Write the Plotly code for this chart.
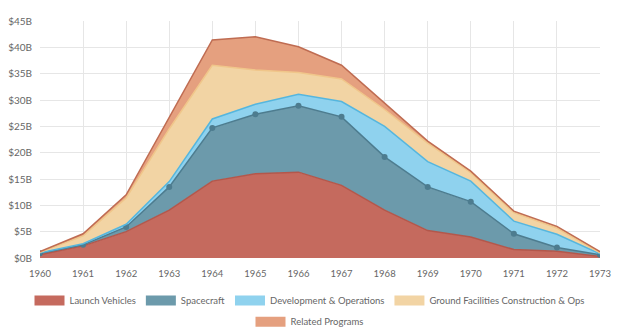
import plotly.graph_objects as go

years = list(range(1960, 1974))
year_labels = [str(y) for y in years]

launch_vehicles = [0.6, 2.3, 5.0, 9.1, 14.6, 16.0, 16.3, 13.8, 9.1, 5.2, 4.0, 1.6, 1.3, 0.3]
spacecraft      = [0.3, 0.2, 0.9, 4.4, 10.1, 11.3, 12.6, 13.0, 10.1, 8.3, 6.7, 3.0, 0.7, 0.3]
dev_ops         = [0.1, 0.2, 0.5, 1.0, 1.7, 1.9, 2.2, 2.9, 5.8, 4.8, 3.9, 2.4, 2.5, 0.2]
ground_fac      = [0.1, 1.5, 5.0, 10.0, 10.2, 6.5, 4.1, 4.3, 3.2, 3.5, 1.6, 1.6, 1.2, 0.2]
related         = [0.1, 0.4, 0.6, 2.2, 4.8, 6.3, 4.9, 2.6, 1.2, 0.4, 0.3, 0.3, 0.3, 0.2]

y_ticks = [0, 5, 10, 15, 20, 25, 30, 35, 40, 45]
y_tick_labels = ["$%dB" % v for v in y_ticks]

series = [
    ("Launch Vehicles", launch_vehicles, "#c56a5e", "#b3574b", False, "legend"),
    ("Spacecraft", spacecraft, "#6c9aab", "#4d7c8f", True, "legend"),
    ("Development & Operations", dev_ops, "#8fd2ee", "#55b6de", False, "legend"),
    ("Ground Facilities Construction & Ops", ground_fac, "#f2d4a4", "#f0c68a", False, "legend"),
    ("Related Programs", related, "#e5a07f", "#bf6c52", False, "legend2"),
]

fig = go.Figure()
for name, vals, fillc, linec, mk, lg in series:
    fig.add_trace(go.Scatter(
        x=years, y=vals, name=name, stackgroup="one",
        mode="lines+markers" if mk else "lines",
        line=dict(color=linec, width=1.5),
        marker=dict(color=linec, size=6),
        fillcolor=fillc, showlegend=False, hoverinfo="skip",
    ))

for name, vals, fillc, linec, mk, lg in series:
    fig.add_trace(go.Scatter(
        x=[None], y=[None], name=name, mode="lines",
        line=dict(color=fillc, width=12), showlegend=True, legend=lg,
    ))

legend_common = dict(
    orientation="h", xref="container", x=0.5, xanchor="center",
    yref="container", yanchor="top", traceorder="normal",
    font=dict(size=9.5, color="#666666"), itemclick=False,
)

fig.update_layout(
    width=619, height=330,
    margin=dict(l=40, r=19, t=21, b=72),
    paper_bgcolor="white", plot_bgcolor="white",
    font=dict(family="Lato", color="#666666", size=10),
    xaxis=dict(
        range=[1960, 1973], tickvals=years, ticktext=year_labels,
        showgrid=True, gridcolor="#e6e6e6", gridwidth=1,
        zeroline=False, showline=False, ticks="",
        ticklabelstandoff=8, automargin=False,
        tickfont=dict(size=9.5, color="#666666"),
    ),
    yaxis=dict(
        range=[0, 45], tickvals=y_ticks, ticktext=y_tick_labels,
        showgrid=True, gridcolor="#e6e6e6", gridwidth=1,
        zeroline=False, showline=False, ticks="",
        ticklabelstandoff=7, automargin=False,
        tickfont=dict(size=10, color="#666666"),
    ),
    legend=dict(legend_common, y=0.133),
    legend2=dict(legend_common, y=0.069),
    showlegend=True,
)

fig.write_html("out.html", config={"displayModeBar": False})
